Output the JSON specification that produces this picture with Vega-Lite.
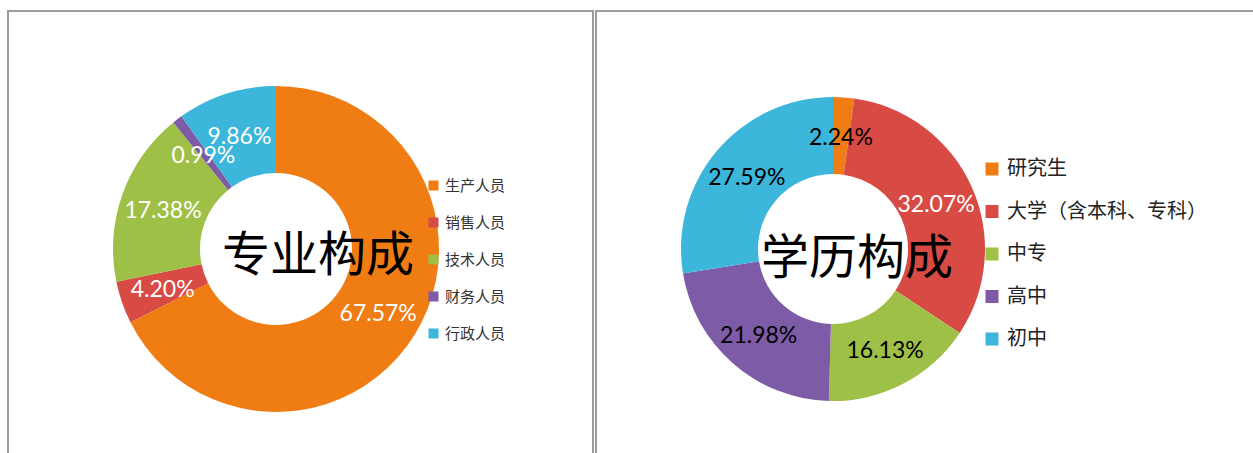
{
  "$schema": "https://vega.github.io/schema/vega-lite/v6.json",
  "padding": {"left": 7, "top": 10, "right": 0, "bottom": 0},
  "background": "white",
  "spacing": 1,
  "config": {"view": {"stroke": "#9c9c9c", "strokeWidth": 2}, "font": "Lato"},
  "datasets": {
    "major": [
      {"name": "生产人员", "share": 0.6757, "i": 1},
      {"name": "销售人员", "share": 0.0420, "i": 2},
      {"name": "技术人员", "share": 0.1738, "i": 3},
      {"name": "财务人员", "share": 0.0099, "i": 4},
      {"name": "行政人员", "share": 0.0986, "i": 5}
    ],
    "edu": [
      {"name": "研究生", "share": 0.0224, "i": 1},
      {"name": "大学（含本科、专科）", "share": 0.3207, "i": 2},
      {"name": "中专", "share": 0.1613, "i": 3},
      {"name": "高中", "share": 0.2198, "i": 4},
      {"name": "初中", "share": 0.2759, "i": 5}
    ]
  },
  "hconcat": [
    {
      "width": 585,
      "height": 443,
      "view": {"stroke": "#9c9c9c", "strokeWidth": 2, "fill": "white"},
      "layer": [
        {
          "data": {"name": "major"},
          "mark": {"type": "arc", "radius": 163, "radius2": 76, "x": 268, "y": 238},
          "encoding": {
            "theta": {"field": "share", "type": "quantitative", "stack": true},
            "order": {"field": "i", "type": "quantitative"},
            "color": {
              "field": "name", "type": "nominal",
              "scale": {"domain": ["生产人员", "销售人员", "技术人员", "财务人员", "行政人员"], "range": ["#F07C14", "#D84A44", "#9EC046", "#7E5BA6", "#3CB6DA"]},
              "legend": {"orient": "none", "legendX": 418, "legendY": 167, "title": null, "symbolType": "square", "symbolSize": 100, "symbolStrokeWidth": 0, "labelFontSize": 15, "labelFont": "Noto Sans CJK SC", "labelColor": "#333333", "rowPadding": 21, "labelOffset": 4}
            }
          }
        },
        {
          "data": {"name": "major"},
          "mark": {"type": "text", "radius": 120, "x": 268, "y": 238, "dy": 2, "font": "Lato", "fontSize": 23, "fill": "white", "align": "center", "baseline": "middle"},
          "encoding": {
            "theta": {"field": "share", "type": "quantitative", "stack": true},
            "order": {"field": "i", "type": "quantitative"},
            "text": {"field": "share", "type": "quantitative", "format": ".2%"}
          }
        },
        {
          "data": {"values": [{"t": "专业构成"}]},
          "mark": {"type": "text", "x": 310, "y": 246, "font": "Noto Sans CJK SC", "fontSize": 48, "fill": "black", "align": "center", "baseline": "middle"},
          "encoding": {"text": {"field": "t", "type": "nominal"}}
        }
      ]
    },
    {
      "width": 662,
      "height": 443,
      "view": {"stroke": "#9c9c9c", "strokeWidth": 2, "fill": "white"},
      "layer": [
        {
          "data": {"name": "edu"},
          "mark": {"type": "arc", "radius": 152, "radius2": 75, "x": 237, "y": 238},
          "encoding": {
            "theta": {"field": "share", "type": "quantitative", "stack": true},
            "order": {"field": "i", "type": "quantitative"},
            "color": {
              "field": "name", "type": "nominal",
              "scale": {"domain": ["研究生", "大学（含本科、专科）", "中专", "高中", "初中"], "range": ["#F07C14", "#D84A44", "#9EC046", "#7E5BA6", "#3CB6DA"]},
              "legend": {"orient": "none", "legendX": 386, "legendY": 148, "title": null, "symbolType": "square", "symbolSize": 169, "symbolStrokeWidth": 0, "labelFontSize": 20, "labelFont": "Noto Sans CJK SC", "labelColor": "#222222", "rowPadding": 22.5, "labelOffset": 5, "labelLimit": 300}
            }
          }
        },
        {
          "data": {"name": "edu"},
          "mark": {"type": "text", "radius": 113, "x": 237, "y": 238, "dy": 2, "font": "Lato", "fontSize": 23, "align": "center", "baseline": "middle"},
          "encoding": {
            "theta": {"field": "share", "type": "quantitative", "stack": true},
            "order": {"field": "i", "type": "quantitative"},
            "text": {"field": "share", "type": "quantitative", "format": ".2%"},
            "color": {"condition": {"test": "datum.name === '大学（含本科、专科）'", "value": "white"}, "value": "black"}
          }
        },
        {
          "data": {"values": [{"t": "学历构成"}]},
          "mark": {"type": "text", "x": 261, "y": 249, "font": "Noto Sans CJK SC", "fontSize": 48, "fill": "black", "align": "center", "baseline": "middle"},
          "encoding": {"text": {"field": "t", "type": "nominal"}}
        }
      ]
    }
  ],
  "resolve": {"scale": {"color": "independent", "theta": "independent"}, "legend": {"color": "independent"}}
}
